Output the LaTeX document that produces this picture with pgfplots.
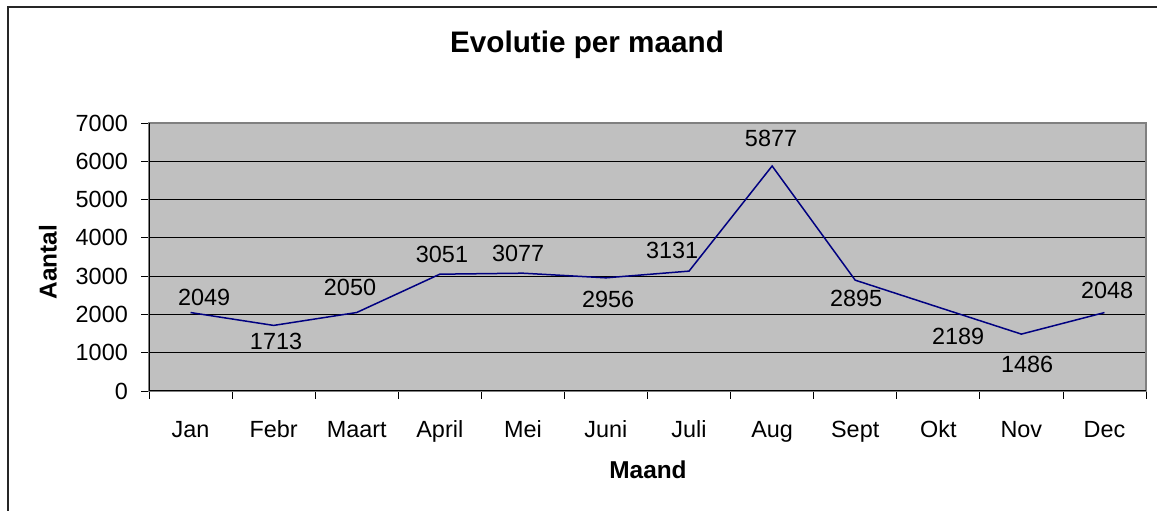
\documentclass[border=0pt]{standalone}
\usepackage{pgfplots}
\pgfplotsset{compat=1.18}
\usepackage{pgfplotstable}
\usepackage{fontspec}
\setmainfont{Liberation Sans}

\definecolor{plotgray}{HTML}{C0C0C0}
\definecolor{bordergray}{HTML}{808080}
\definecolor{navyline}{HTML}{000080}

% month, count, label offset (bp)
\pgfplotstableread{
m v dx dy
1 2049 13.5 15.6
2 1713 2.4 -15.6
3 2050 -6.7 25.5
4 3051 2.2 20.2
5 3077 -4.8 20.2
6 2956 2.1 -21.2
7 3131 -17 21.1
8 5877 -1.1 28
9 2895 0.9 -17.8
10 2189 19.8 -28.8
11 1486 5.7 -29.9
12 2048 2.6 22.6
}\maanddata

\begin{document}
\begin{tikzpicture}
\useasboundingbox (0,0) rectangle (1157bp,511bp);
\draw[line width=1.5bp, black!85] (8bp,0) -- (8bp,504bp) -- (1157bp,504bp);

\begin{axis}[
    at={(149bp,120bp)}, anchor=south west,
    scale only axis, width=997bp, height=268bp,
    xmin=0.5, xmax=12.5, ymin=0, ymax=7000,
    xtick={0.5,1.5,...,12.5}, xticklabels={},
    extra x ticks={1,...,12},
    extra x tick labels={Jan,Febr,Maart,April,Mei,Juni,Juli,Aug,Sept,Okt,Nov,Dec},
    extra x tick style={major tick length=0pt, grid=none},
    ytick={0,1000,...,7000},
    tick align=outside, xtick pos=bottom, ytick pos=left,
    major tick length=8bp,
    tick style={black, line width=0.75bp},
    ymajorgrids, grid style={black, line width=0.75bp},
    axis line style={bordergray, line width=1.5bp},
    axis background/.style={fill=plotgray},
    ticklabel style={font=\fontsize{23.5}{26}\selectfont},
    xticklabel style={anchor=base, inner sep=0pt, yshift=-46bp},
    yticklabel style={anchor=east, inner sep=0pt, xshift=-13bp},
    /pgf/number format/assume math mode=true,
    /pgf/number format/1000 sep={},
    clip=false,
]
\addplot[navyline, line width=1.5bp, mark=none,
    point meta=explicit symbolic,
    nodes near coords,
    visualization depends on={\thisrow{dx} \as \ldx},
    visualization depends on={\thisrow{dy} \as \ldy},
    every node near coord/.append style={anchor=center, text=black,
        xshift=\ldx bp, yshift=\ldy bp, font=\fontsize{23.5}{26}\selectfont},
] table[x=m, y=v, meta=v] {\maanddata};
\draw[black, line width=1bp] (rel axis cs:0,0) -- (rel axis cs:1,0);
\draw[black, line width=1bp] (rel axis cs:0,0) -- (rel axis cs:0,1);
\end{axis}

\node[font=\bfseries\fontsize{29.8}{34}\selectfont, anchor=base] at (587bp,458bp) {Evolutie per maand};
\node[font=\bfseries\fontsize{24.5}{28}\selectfont, rotate=90] at (48bp,249bp) {Aantal};
\node[font=\bfseries\fontsize{24.5}{28}\selectfont, anchor=base] at (648bp,33bp) {Maand};
\end{tikzpicture}
\end{document}
